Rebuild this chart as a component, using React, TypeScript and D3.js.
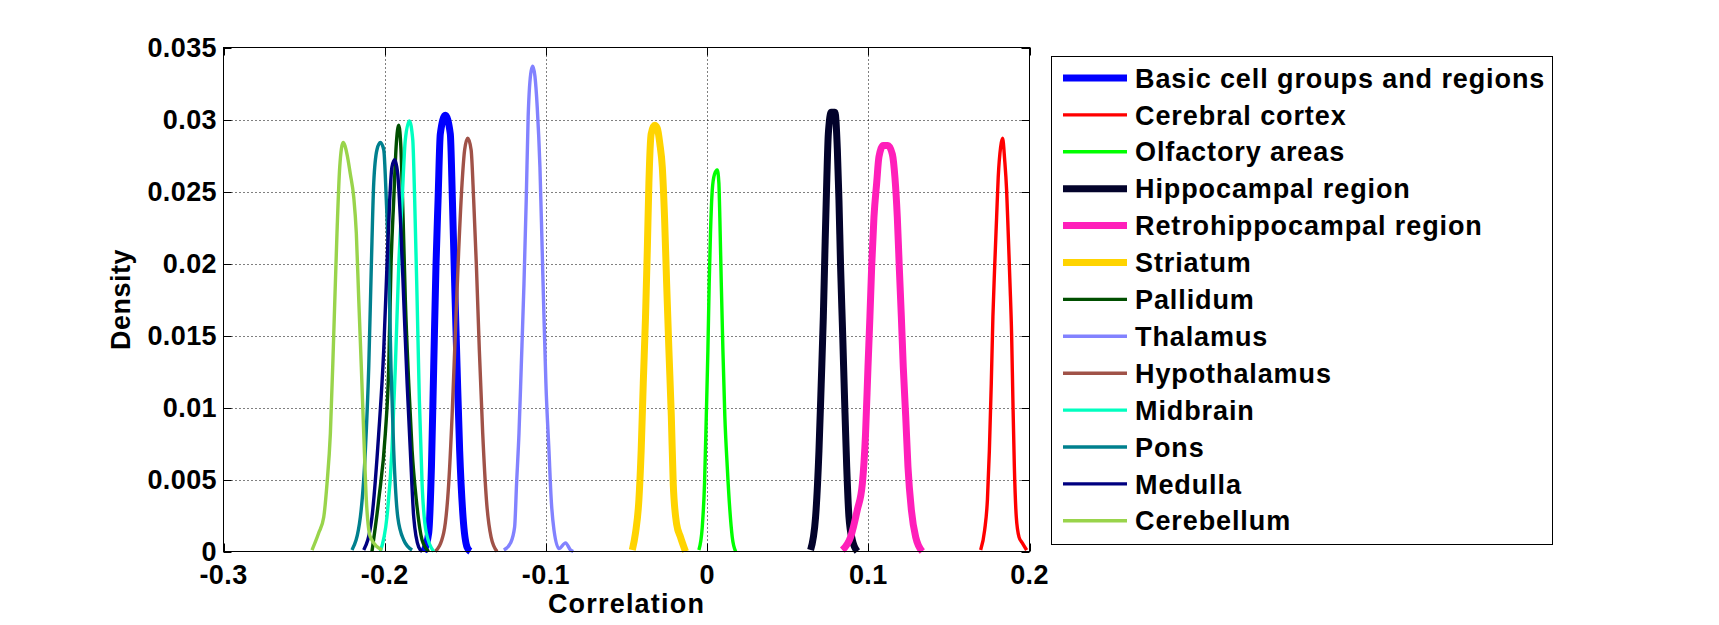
import React from "react";
import * as d3 from "d3";

type Pt = [number, number];

const xTicks = [-0.3, -0.2, -0.1, 0, 0.1, 0.2];
const xTickLabels = ["-0.3", "-0.2", "-0.1", "0", "0.1", "0.2"];
const yTicks = [0, 0.005, 0.01, 0.015, 0.02, 0.025, 0.03, 0.035];
const yTickLabels = ["0", "0.005", "0.01", "0.015", "0.02", "0.025", "0.03", "0.035"];

const basicCell: Pt[] = [[-0.1758,0],[-0.1727,0.0013],[-0.1710,0.0059],[-0.1696,0.0128],[-0.1682,0.0198],[-0.1669,0.0244],[-0.1655,0.0290],[-0.1624,0.0303],[-0.1593,0.0290],[-0.1580,0.0244],[-0.1566,0.0186],[-0.1551,0.0128],[-0.1535,0.0070],[-0.1514,0.0024],[-0.1489,0.0003],[-0.1469,0]];
const cerebralCortex: Pt[] = [[0.1697,0.0001],[0.1722,0.0015],[0.1739,0.0036],[0.1751,0.0070],[0.1763,0.0117],[0.1773,0.0163],[0.1784,0.0198],[0.1796,0.0232],[0.1806,0.0260],[0.1821,0.0281],[0.1833,0.0287],[0.1846,0.0272],[0.1858,0.0251],[0.1868,0.0221],[0.1879,0.0186],[0.1889,0.0151],[0.1897,0.0105],[0.1906,0.0059],[0.1918,0.0024],[0.1935,0.0010],[0.1955,0.0006],[0.1982,0.0001]];
const olfactory: Pt[] = [[-0.0051,0.0001],[-0.0030,0.0017],[-0.0016,0.0047],[-0.0005,0.0094],[0.0005,0.0140],[0.0013,0.0186],[0.0021,0.0221],[0.0032,0.0251],[0.0046,0.0262],[0.0063,0.0265],[0.0073,0.0256],[0.0079,0.0232],[0.0088,0.0186],[0.0098,0.0140],[0.0110,0.0094],[0.0125,0.0059],[0.0141,0.0029],[0.0156,0.0010],[0.0177,0]];
const hippocampal: Pt[] = [[0.0642,0.0001],[0.0673,0.0024],[0.0694,0.0070],[0.0708,0.0117],[0.0721,0.0163],[0.0731,0.0209],[0.0742,0.0256],[0.0752,0.0290],[0.0770,0.0305],[0.0793,0.0305],[0.0808,0.0279],[0.0818,0.0244],[0.0828,0.0198],[0.0841,0.0151],[0.0853,0.0105],[0.0866,0.0059],[0.0880,0.0024],[0.0901,0.0008],[0.0932,0]];
const retrohippocampal: Pt[] = [[0.0839,0.0001],[0.0890,0.0010],[0.0932,0.0029],[0.0963,0.0047],[0.0983,0.0082],[0.0998,0.0128],[0.1010,0.0163],[0.1021,0.0198],[0.1035,0.0232],[0.1052,0.0256],[0.1066,0.0274],[0.1093,0.0282],[0.1122,0.0282],[0.1149,0.0276],[0.1165,0.0260],[0.1180,0.0232],[0.1192,0.0198],[0.1205,0.0163],[0.1217,0.0128],[0.1232,0.0094],[0.1246,0.0059],[0.1267,0.0029],[0.1294,0.0010],[0.1335,0]];
const striatum: Pt[] = [[-0.0464,0.0001],[-0.0444,0.0013],[-0.0423,0.0036],[-0.0409,0.0070],[-0.0396,0.0117],[-0.0382,0.0163],[-0.0371,0.0209],[-0.0361,0.0256],[-0.0347,0.0290],[-0.0326,0.0296],[-0.0309,0.0294],[-0.0293,0.0283],[-0.0278,0.0267],[-0.0264,0.0232],[-0.0251,0.0186],[-0.0237,0.0140],[-0.0222,0.0094],[-0.0210,0.0047],[-0.0189,0.0019],[-0.0165,0.0010],[-0.0134,0]];
const pallidum: Pt[] = [[-0.2079,0],[-0.2037,0.0036],[-0.1996,0.0082],[-0.1975,0.0128],[-0.1961,0.0198],[-0.1944,0.0244],[-0.1928,0.0283],[-0.1913,0.0296],[-0.1899,0.0279],[-0.1886,0.0232],[-0.1872,0.0175],[-0.1851,0.0117],[-0.1830,0.0070],[-0.1804,0.0036],[-0.1768,0.0008],[-0.1727,0]];
const thalamus: Pt[] = [[-0.1261,0.0001],[-0.1219,0.0006],[-0.1194,0.0017],[-0.1182,0.0047],[-0.1167,0.0082],[-0.1153,0.0128],[-0.1136,0.0186],[-0.1122,0.0244],[-0.1110,0.0302],[-0.1091,0.0334],[-0.1081,0.0337],[-0.1068,0.0330],[-0.1054,0.0309],[-0.1037,0.0267],[-0.1023,0.0209],[-0.1012,0.0163],[-0.1000,0.0117],[-0.0981,0.0070],[-0.0967,0.0036],[-0.0950,0.0015],[-0.0919,0.0002],[-0.0878,0.0006],[-0.0847,0.0001],[-0.0830,0]];
const hypothalamus: Pt[] = [[-0.1686,0],[-0.1634,0.0013],[-0.1603,0.0047],[-0.1582,0.0094],[-0.1562,0.0151],[-0.1541,0.0209],[-0.1520,0.0256],[-0.1504,0.0279],[-0.1485,0.0287],[-0.1464,0.0279],[-0.1448,0.0244],[-0.1431,0.0198],[-0.1413,0.0140],[-0.1392,0.0082],[-0.1369,0.0036],[-0.1340,0.0010],[-0.1303,0]];
const midbrain: Pt[] = [[-0.2027,0],[-0.1986,0.0024],[-0.1955,0.0070],[-0.1934,0.0128],[-0.1913,0.0198],[-0.1892,0.0244],[-0.1872,0.0286],[-0.1847,0.0299],[-0.1826,0.0286],[-0.1814,0.0244],[-0.1799,0.0175],[-0.1785,0.0105],[-0.1768,0.0047],[-0.1742,0.0013],[-0.1696,0]];
const pons: Pt[] = [[-0.2203,0.0001],[-0.2151,0.0024],[-0.2120,0.0070],[-0.2099,0.0128],[-0.2083,0.0198],[-0.2068,0.0256],[-0.2048,0.0279],[-0.2027,0.0284],[-0.2006,0.0279],[-0.1990,0.0244],[-0.1975,0.0198],[-0.1961,0.0128],[-0.1944,0.0070],[-0.1919,0.0024],[-0.1882,0.0008],[-0.1830,0.0001]];
const medulla: Pt[] = [[-0.2130,0.0001],[-0.2079,0.0024],[-0.2037,0.0082],[-0.2006,0.0140],[-0.1986,0.0198],[-0.1969,0.0244],[-0.1955,0.0267],[-0.1938,0.0272],[-0.1919,0.0262],[-0.1903,0.0232],[-0.1882,0.0175],[-0.1861,0.0117],[-0.1841,0.0070],[-0.1820,0.0024],[-0.1789,0.0003],[-0.1768,0]];
const cerebellum: Pt[] = [[-0.2451,0.0001],[-0.2409,0.0013],[-0.2378,0.0024],[-0.2358,0.0047],[-0.2337,0.0082],[-0.2316,0.0151],[-0.2296,0.0221],[-0.2279,0.0267],[-0.2258,0.0284],[-0.2234,0.0276],[-0.2213,0.0262],[-0.2192,0.0246],[-0.2176,0.0221],[-0.2161,0.0175],[-0.2145,0.0128],[-0.2130,0.0082],[-0.2114,0.0036],[-0.2089,0.0010],[-0.2017,0.0001]];

const seriesNames = [
  "Basic cell groups and regions", "Cerebral cortex", "Olfactory areas", "Hippocampal region",
  "Retrohippocampal region", "Striatum", "Pallidum", "Thalamus", "Hypothalamus",
  "Midbrain", "Pons", "Medulla", "Cerebellum",
];
const seriesData: Pt[][] = [
  basicCell, cerebralCortex, olfactory, hippocampal, retrohippocampal, striatum,
  pallidum, thalamus, hypothalamus, midbrain, pons, medulla, cerebellum,
];
const seriesColors = [
  "#0000ff", "#ff0000", "#00ff00", "#03032b", "#ff1fba", "#ffd400", "#004f00",
  "#8282ff", "#a05248", "#00ffc0", "#00808e", "#000080", "#99d44b",
];
const seriesThick = [true, false, false, true, true, true, false, false, false, false, false, false, false];

const W = 1719;
const H = 625;
const left = 223.5, right = 1029.5, top = 47.5, bottom = 551.5;
const FONT = "'Liberation Sans', Arial, Helvetica, sans-serif";

export default function App() {
  const x = d3.scaleLinear().domain([-0.3, 0.2]).range([left, right]);
  const y = d3.scaleLinear().domain([0, 0.035]).range([bottom, top]);
  const line = d3.line<Pt>().x((d) => x(d[0])).y((d) => y(d[1])).curve(d3.curveMonotoneX);
  const tickLen = 8;

  const legX = 1051.5, legY = 56.5, legW = 501, legH = 488;
  const rowY0 = 78, rowStep = 36.9;

  return (
    <svg width={W} height={H} style={{ position: "absolute", left: 0, top: 0, background: "#fff" }}
      fontFamily={FONT} fontWeight="bold">
      <rect x={0} y={0} width={W} height={H} fill="#fff" />
      {/* grid */}
      <g stroke="#000" strokeWidth={1} strokeDasharray="1,3">
        {xTicks.slice(1, -1).map((t) => (
          <line key={"gx" + t} x1={Math.round(x(t)) + 0.5} x2={Math.round(x(t)) + 0.5} y1={top} y2={bottom} />
        ))}
        {yTicks.slice(1, -1).map((t) => (
          <line key={"gy" + t} x1={left} x2={right} y1={Math.round(y(t)) + 0.5} y2={Math.round(y(t)) + 0.5} />
        ))}
      </g>
      {/* series */}
      <g fill="none">
        {seriesData.map((d, i) => (
          <path key={seriesNames[i]} d={line(d) || ""} stroke={seriesColors[i]}
            strokeWidth={seriesThick[i] ? 7 : 3.4} strokeLinejoin="round" />
        ))}
      </g>
      {/* axes box + ticks */}
      <g stroke="#000" strokeWidth={1} fill="none">
        <rect x={left} y={top} width={right - left} height={bottom - top} />
        {xTicks.map((t) => {
          const px = Math.round(x(t)) + 0.5;
          return (
            <g key={"tx" + t}>
              <line x1={px} x2={px} y1={bottom} y2={bottom - tickLen} />
              <line x1={px} x2={px} y1={top} y2={top + tickLen} />
            </g>
          );
        })}
        {yTicks.map((t) => {
          const py = Math.round(y(t)) + 0.5;
          return (
            <g key={"ty" + t}>
              <line x1={left} x2={left + tickLen} y1={py} y2={py} />
              <line x1={right} x2={right - tickLen} y1={py} y2={py} />
            </g>
          );
        })}
      </g>
      {/* tick labels */}
      <g fontSize={27} fill="#000" letterSpacing={0.4}>
        {xTicks.map((t, i) => (
          <text key={"lx" + t} x={x(t)} y={584} textAnchor="middle">{xTickLabels[i]}</text>
        ))}
        {yTicks.map((t, i) => (
          <text key={"ly" + t} x={217} y={y(t) + 9.6} textAnchor="end">{yTickLabels[i]}</text>
        ))}
      </g>
      {/* axis labels */}
      <text x={(left + right) / 2} y={613} textAnchor="middle" fontSize={27} letterSpacing={1.2}>Correlation</text>
      <text transform={`translate(130, ${(top + bottom) / 2}) rotate(-90)`} textAnchor="middle" fontSize={27} letterSpacing={0.5}>Density</text>
      {/* legend */}
      <rect x={legX} y={legY} width={legW} height={legH} fill="#fff" stroke="#000" strokeWidth={1} />
      {seriesNames.map((name, i) => {
        const ry = rowY0 + i * rowStep;
        return (
          <g key={"leg" + name}>
            <line x1={1063} x2={1127} y1={ry} y2={ry} stroke={seriesColors[i]} strokeWidth={seriesThick[i] ? 7 : 3.4} />
            <text x={1135} y={ry + 9.6} fontSize={27} letterSpacing={0.9}>{name}</text>
          </g>
        );
      })}
    </svg>
  );
}
